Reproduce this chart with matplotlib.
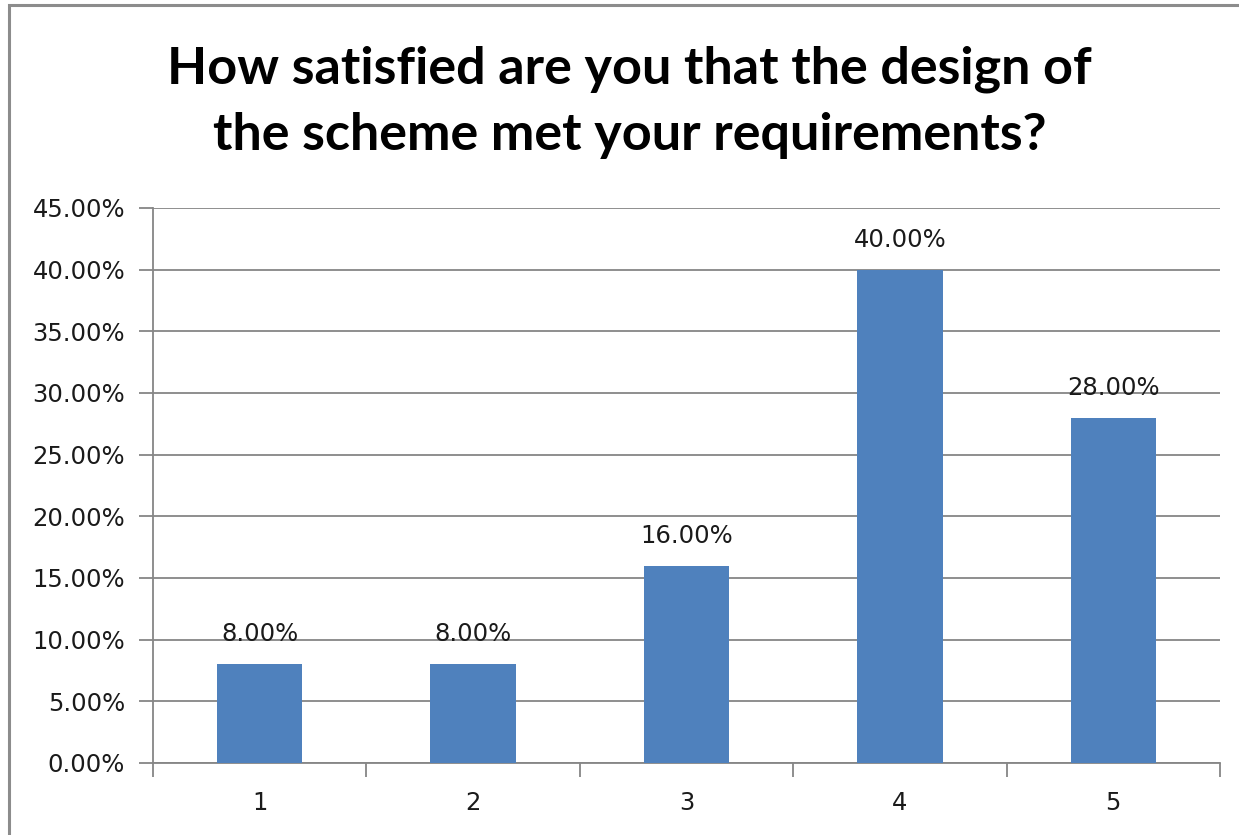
import matplotlib.pyplot as plt
from matplotlib.patches import Rectangle
from matplotlib.ticker import FuncFormatter, MultipleLocator

categories = ['1', '2', '3', '4', '5']
shares = [0.08, 0.08, 0.16, 0.40, 0.28]
title = 'How satisfied are you that the design of\nthe scheme met your requirements?'

grid_color = '#868686'
bar_color = '#4F81BD'


def draw():
    fig = plt.figure(figsize=(12.39, 8.35), dpi=100)
    fig.patch.set_facecolor('white')

    # chart area frame
    fig.patches.append(Rectangle((9 / 1239, -0.05), 1.2, (835 - 5) / 835 + 0.05,
                                 transform=fig.transFigure, fill=False,
                                 edgecolor='#8c8c8c', linewidth=2.2))

    ax = fig.add_axes([153 / 1239, 72 / 835, (1220 - 153) / 1239, (763 - 208) / 835])
    x = list(range(1, len(categories) + 1))
    ax.bar(x, shares, width=0.4, color=bar_color, zorder=3)

    ax.set_xlim(0.5, len(categories) + 0.5)
    ax.set_ylim(0, 0.45)
    ax.yaxis.set_major_locator(MultipleLocator(0.05))
    ax.yaxis.set_major_formatter(FuncFormatter(lambda v, p: '%.2f%%' % (v * 100)))
    ax.grid(axis='y', color=grid_color, linewidth=1.3, zorder=0)

    # category boundaries get the tick marks, labels sit at the centres
    ax.set_xticks([i + 0.5 for i in range(len(categories) + 1)], minor=False)
    ax.set_xticklabels([])
    ax.set_xticks(x, minor=True)
    ax.set_xticklabels(categories, minor=True)
    ax.tick_params(axis='x', which='major', length=10, width=1.3, color=grid_color)
    ax.tick_params(axis='x', which='minor', length=0, pad=20, labelsize=17.5, labelcolor='#1a1a1a')
    ax.tick_params(axis='y', length=10, width=1.3, color=grid_color, pad=10,
                   labelsize=17.5, labelcolor='#1a1a1a')

    for s in ['top', 'right']:
        ax.spines[s].set_visible(False)
    for s in ['left', 'bottom']:
        ax.spines[s].set_color(grid_color)
        ax.spines[s].set_linewidth(1.3)

    for xi, v in zip(x, shares):
        ax.annotate('%.2f%%' % (v * 100), (xi, v), xytext=(0, 13), textcoords='offset points',
                    ha='center', va='bottom', fontsize=17.5, color='#1a1a1a')

    fig.text(0.508, 0.877, title, ha='center', va='center', fontsize=37.5, fontweight='bold',
             family='Lato', linespacing=1.5, color='black')

    plt.savefig('out.png', dpi=100)


if __name__ == '__main__':
    draw()
